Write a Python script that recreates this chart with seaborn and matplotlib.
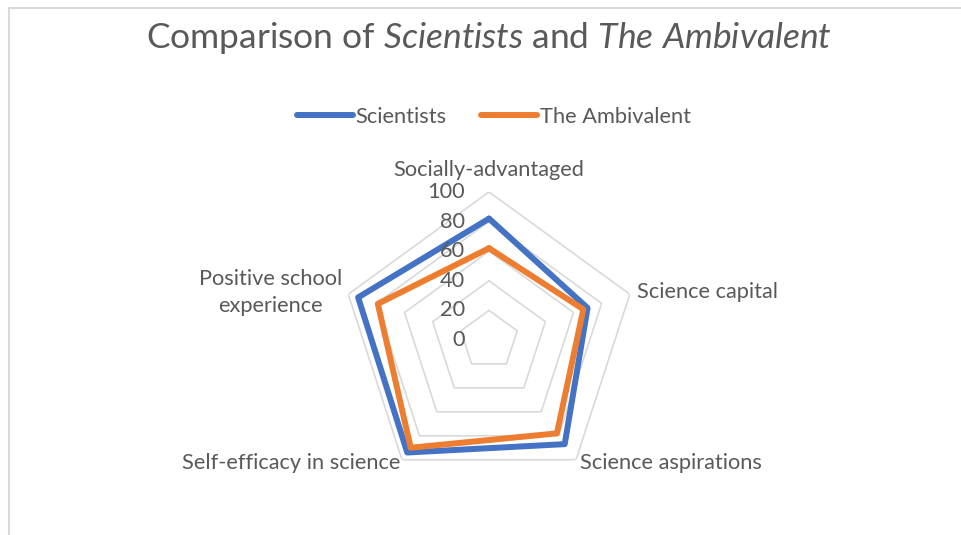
import numpy as np
import pandas as pd
import seaborn as sns
import matplotlib.pyplot as plt
from matplotlib import transforms

# Data
categories = ['Socially-advantaged', 'Science capital', 'Science aspirations',
              'Self-efficacy in science', 'Positive school\nexperience']
scientists = [82, 70, 87, 94, 93]
ambivalent = [62, 67, 78, 90, 79]
ring_values = [0, 20, 40, 60, 80, 100]
series_names = ['Scientists', 'The Ambivalent']
series_colors = ['#4472C4', '#ED7D31']

sns.set_style('white')
plt.rcParams['font.family'] = ['Lato', 'DejaVu Sans']
plt.rcParams['mathtext.fontset'] = 'custom'
plt.rcParams['mathtext.rm'] = 'Lato'
plt.rcParams['mathtext.it'] = 'Lato:italic'
text_color = '#595959'
grid_color = '#D9D9D9'
fs = 15.7

n = len(categories)
angles = np.linspace(0, 2 * np.pi, n, endpoint=False)
closed = np.append(angles, angles[0])

rows = []
for name, vals in zip(series_names, [scientists, ambivalent]):
    for i, th in enumerate(closed):
        rows.append({'theta': th, 'value': vals[i % n], 'series': name})
df = pd.DataFrame(rows)

fig = plt.figure(figsize=(9.62, 5.35), dpi=100)
ax = fig.add_axes([0.3545, 0.0879, 0.3077, 0.5533], projection='polar')
ax.set_theta_offset(np.pi / 2)
ax.set_theta_direction(-1)
ax.set_ylim(0, 100)
ax.grid(False)
ax.spines['polar'].set_visible(False)
ax.set_facecolor('none')

# polygon gridlines
for rv in ring_values[1:]:
    ax.plot(closed, [rv] * len(closed), color=grid_color, lw=1.2, zorder=1)

sns.lineplot(data=df, x='theta', y='value', hue='series', sort=False, estimator=None,
             palette=dict(zip(series_names, series_colors)), linewidth=4.3,
             legend=False, ax=ax, zorder=3)
ax.set_xlabel('')
ax.set_ylabel('')
ax.set_xticks([])
ax.set_yticks([])
ax.set_ylim(0, 100)

# radial tick labels
off = transforms.offset_copy(ax.transData, fig=fig, x=-24, y=0, units='dots')
for rv in ring_values:
    ax.text(0, rv, str(rv), transform=off, ha='right', va='center',
            fontsize=fs, color=text_color)

# category labels
label_pos = [((0, 12), 'center', 'bottom'),
             ((7, 2), 'left', 'center'),
             ((4, -3), 'left', 'center'),
             ((-2, -3), 'right', 'center'),
             ((-6, 2), 'right', 'center')]
for th, lab, (xy, ha, va) in zip(angles, categories, label_pos):
    ax.annotate(lab, xy=(th, 100), xytext=xy, textcoords='offset pixels',
                ha=ha, va=va, multialignment='center', fontsize=fs,
                linespacing=1.45, color=text_color, annotation_clip=False)

# title with italic group names
fig.text(0.5083, 1 - 38 / 535,
         r'Comparison of $\mathit{Scientists}$ and $\mathit{The\ Ambivalent}$',
         ha='center', va='center', fontsize=25.5, color=text_color)

# legend
handles = [plt.Line2D([], [], color=c, lw=4.3, solid_capstyle='round') for c in series_colors]
fig.legend(handles, series_names, loc='center', bbox_to_anchor=(0.5135, 1 - 117 / 535),
           ncol=2, frameon=False, fontsize=fs, labelcolor=text_color,
           handlelength=2.55, handletextpad=0.12, columnspacing=1.6)

# chart area border
fig.add_artist(plt.Rectangle((9 / 962, -0.05), 1.2, 1 - 8 / 535 + 0.05,
                             transform=fig.transFigure, fill=False,
                             edgecolor=grid_color, lw=1.5))

fig.savefig('out.png', dpi=100)
